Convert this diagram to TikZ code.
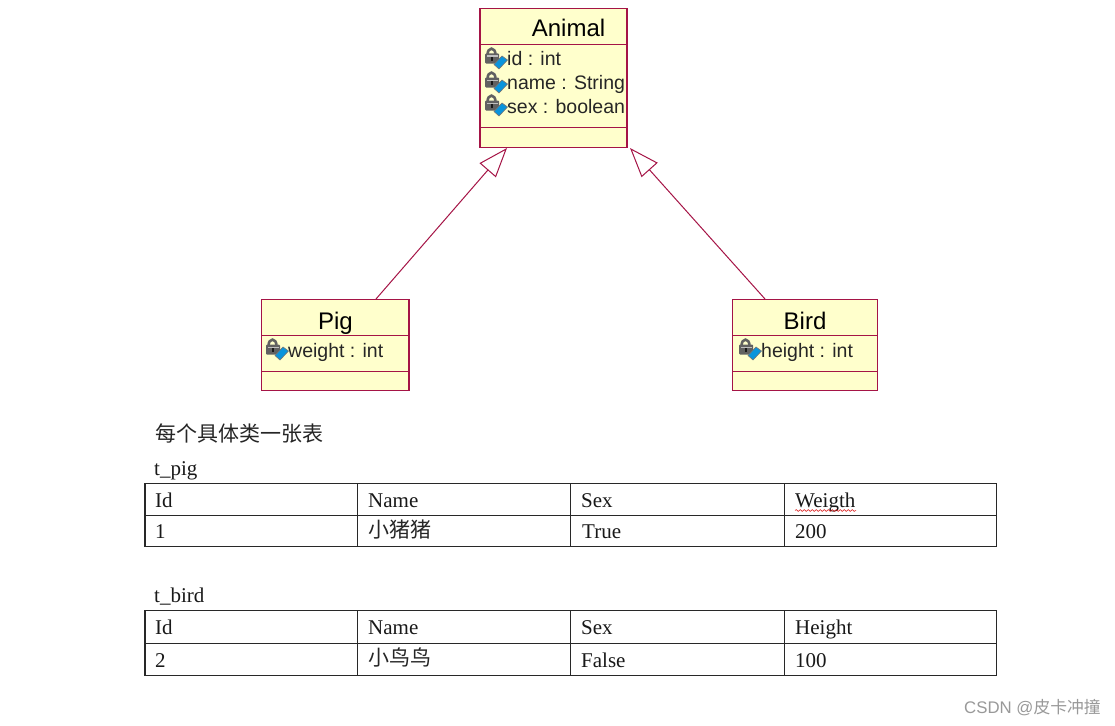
\documentclass[tikz,border=0pt]{standalone}
\usepackage{fontspec}
\setmainfont{Liberation Serif}
\setsansfont{Liberation Sans}
\newfontfamily\cjk{Noto Sans CJK SC}
\usetikzlibrary{arrows.meta,decorations.pathmorphing}
\definecolor{umlline}{RGB}{165,20,70}
\definecolor{umlfill}{RGB}{255,255,204}
\definecolor{gridline}{RGB}{40,40,40}
\newcommand{\uml}{\fontsize{19.5}{22}\selectfont\sffamily}
\newcommand{\umltitle}{\fontsize{24}{26}\selectfont\sffamily}
\newcommand{\tbl}{\fontsize{21}{23}\selectfont\rmfamily}
\tikzset{
  x=1pt,y=-1pt,
  umlbox/.style={draw=umlline,fill=umlfill,line width=1.4pt},
  umlsep/.style={draw=umlline,line width=1.3pt},
  inherit/.style={draw=umlline,line width=1pt,-{Triangle[open,fill=white,length=29.5pt,width=21.5pt,line width=1pt]}},
  title/.style={inner sep=0pt,anchor=base,font=\umltitle},
  attr/.style={inner sep=0pt,anchor=base west,font=\uml,text=black!85},
  cell/.style={inner sep=0pt,anchor=base west,font=\tbl,text=black!90},
  cncell/.style={inner sep=0pt,anchor=base west,font=\fontsize{21}{23}\selectfont\cjk,text=black!85},
  grid/.style={draw=gridline,line width=1.5pt},
  pics/lockicon/.style={code={
    \draw[line width=2.6pt,draw=black!62] (3.5,9) .. controls (3.5,0.5) and (11.5,0.5) .. (11.5,9);
    \fill[black!62,rounded corners=1pt] (1,7.5) rectangle (15,17.5);
    \fill[black!25] (2.5,9.5) rectangle (13.5,11);
    \fill[black!90] (6.5,11) rectangle (9,15);
    \fill[cyan!80!blue,draw=black!55,line width=0.6pt] (10,18.5) -- (18,10) -- (23.5,14) -- (15,23) -- cycle;
  }}
}
\begin{document}
\begin{tikzpicture}
\useasboundingbox (0,0) rectangle (1115,725);
\fill[white] (0,0) rectangle (1115,725);

% Animal
\path[umlbox] (480,8.5) rectangle (627,147.5);
\path[umlsep] (480,44.5) -- (627,44.5);
\path[umlsep] (480,127.5) -- (627,127.5);
\node[title] (animal) at (568.5,37) {Animal};
\pic at (484,46) {lockicon};
\pic at (484,70) {lockicon};
\pic at (484,93) {lockicon};
\node[attr] (a1) at (507,66) {id : int};
\node[attr] (a2) at (507,89) {name : String};
\node[attr] (a3) at (507,113) {sex : boolean};

% Pig
\path[umlbox] (261.5,299.5) rectangle (409,390.5);
\path[umlsep] (261.5,335.5) -- (409,335.5);
\path[umlsep] (261.5,371.5) -- (409,371.5);
\node[title] (pig) at (335.5,329) {Pig};
\pic at (265,337) {lockicon};
\node[attr] (p1) at (288,357) {weight : int};

% Bird
\path[umlbox] (732.5,299.5) rectangle (877.5,390.5);
\path[umlsep] (732.5,335.5) -- (877.5,335.5);
\path[umlsep] (732.5,371.5) -- (877.5,371.5);
\node[title] (bird) at (805,329) {Bird};
\pic at (738,337) {lockicon};
\node[attr] (b1) at (761,357) {height : int};

% Generalisation
\coordinate (pigtop) at (376,299);
\coordinate (animalL) at (507,148);
\coordinate (birdtop) at (765,299);
\coordinate (animalR) at (630,148);
\draw[inherit] (pigtop) -- (animalL);
\draw[inherit] (birdtop) -- (animalR);

% Captions
\node[inner sep=0pt,anchor=base west,font=\fontsize{21}{23}\selectfont\cjk,text=black!85] (cap) at (155,441) {每个具体类一张表};
\node[cell] (tpig) at (154,475) {t\_pig};
\node[cell] (tbird) at (154,602) {t\_bird};

% Table 1
\path[grid] (145,483.5) rectangle (996.5,546.5);
\path[grid] (145,515.5) -- (996.5,515.5);
\foreach \x in {357.5,570.5,784.5}{\path[grid] (\x,483.5) -- (\x,546.5);}
\node[cell] (t1a) at (155,507) {Id};
\node[cell] (t1b) at (368,507) {Name};
\node[cell] (t1c) at (581,507) {Sex};
\node[cell] (t1d) at (795,507) {Weigth};
\node[cell] (t1e) at (155,538) {1};
\node[cncell] (t1f) at (368,537) {小猪猪};
\node[cell] (t1g) at (582,538) {True};
\node[cell] (t1h) at (795,538) {200};
\draw[red!85!black,line width=0.5pt,decorate,decoration={snake,amplitude=0.9pt,segment length=4pt}] (795,510.5) -- (856,510.5);

% Table 2
\path[grid] (145,610.5) rectangle (996.5,675.5);
\path[grid] (145,643.5) -- (996.5,643.5);
\foreach \x in {357.5,570.5,784.5}{\path[grid] (\x,610.5) -- (\x,675.5);}
\node[cell] (t2a) at (155,634) {Id};
\node[cell] (t2b) at (368,634) {Name};
\node[cell] (t2c) at (581,634) {Sex};
\node[cell] (t2d) at (795,634) {Height};
\node[cell] (t2e) at (155,667) {2};
\node[cncell] (t2f) at (368,665) {小鸟鸟};
\node[cell] (t2g) at (581,667) {False};
\node[cell] (t2h) at (795,667) {100};

% Watermark
\node[inner sep=0pt,anchor=base west,font=\fontsize{16.8}{19}\selectfont\sffamily,text=black!40] (wm) at (964,713) {CSDN @{\cjk 皮卡冲撞}};
\end{tikzpicture}
\end{document}
